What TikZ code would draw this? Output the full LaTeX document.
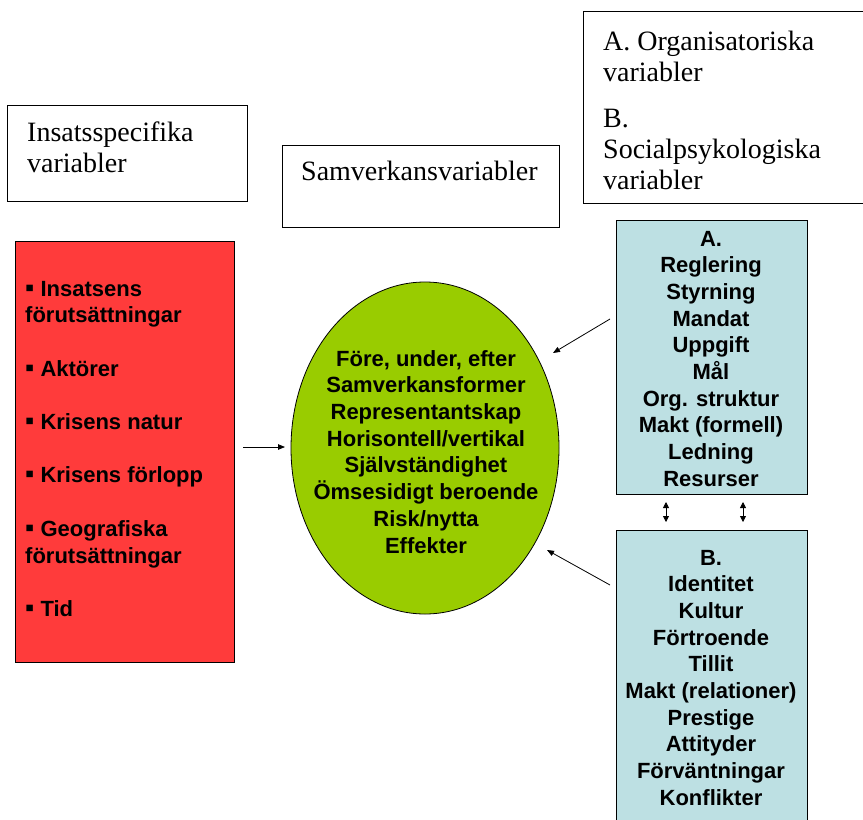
\documentclass[tikz,border=0pt]{standalone}
\usepackage{fontspec}
\setmainfont{Liberation Serif}
\setsansfont{Liberation Sans}
\usetikzlibrary{arrows.meta,shapes.geometric}
\definecolor{redfill}{HTML}{FF3B3B}
\definecolor{greenfill}{HTML}{99CC00}
\definecolor{bluefill}{HTML}{BDE0E3}
\newcommand{\bul}{{\fontsize{26}{26.7}\selectfont▪}\ }
\begin{document}
\begin{tikzpicture}[x=1pt,y=-1pt,
  labelbox/.style={draw=black, line width=0.8pt, fill=white, inner sep=0, anchor=north west},
  colbox/.style={draw=black, line width=0.8pt, inner sep=0, anchor=north west},
  serif/.style={font=\fontsize{28}{31}\selectfont, inner sep=0, anchor=base west, align=left},
  boldtxt/.style={font=\sffamily\bfseries\fontsize{22}{26.7}\selectfont, inner sep=0, anchor=base, align=center},
  conn/.style={-{Triangle[length=7pt,width=5.5pt]}, line width=0.8pt},
  dconn/.style={{Triangle[length=6pt,width=6pt]}-{Triangle[length=6pt,width=6pt]}, line width=0.8pt},
]
\useasboundingbox (0,0) rectangle (863,820);
\fill[white] (0,0) rectangle (863,820);

% header label boxes (text anchors are the baseline of the last line)
\node[labelbox, minimum width=240pt, minimum height=96pt] (insbox) at (7,105) {};
\node[serif] (instxt) at (27,172) {Insatsspecifika\\variabler};

\node[labelbox, minimum width=277pt, minimum height=82pt] (sambox) at (282,145) {};
\node[serif] (samtxt) at (301,180) {Samverkansvariabler};

\node[labelbox, minimum width=290pt, minimum height=192pt] (orgbox) at (583,11) {};
\node[serif] (orgtxt) at (603,189) {A. Organisatoriska\\variabler\\[15pt]B.\\Socialpsykologiska\\variabler};

% red box
\node[colbox, fill=redfill, minimum width=219pt, minimum height=421pt] (redbox) at (15,241) {};
\node[boldtxt, anchor=base west, align=left] (redtxt) at (25,616.4)
 {\bul Insatsens\\förutsättningar\\[26.7pt]\bul Aktörer\\[26.7pt]\bul Krisens natur\\[26.7pt]\bul Krisens förlopp\\[26.7pt]\bul Geografiska\\förutsättningar\\[26.7pt]\bul Tid};

% ellipse
\node[draw=black, line width=0.8pt, ellipse, fill=greenfill, minimum width=268pt, minimum height=332pt, inner sep=0] (ell) at (425,448) {};
\node[boldtxt] (elltxt) at (426,553)
 {Före, under, efter\\Samverkansformer\\Representantskap\\Horisontell/vertikal\\Självständighet\\Ömsesidigt beroende\\Risk/nytta\\Effekter};

% blue boxes
\node[colbox, fill=bluefill, minimum width=191pt, minimum height=274pt] (boxA) at (616,220) {};
\node[boldtxt] (txtA) at (711,486.3)
 {A.\\Reglering\\Styrning\\Mandat\\Uppgift\\Mål\\Org. struktur\\Makt (formell)\\Ledning\\Resurser};

\node[colbox, fill=bluefill, minimum width=191pt, minimum height=300pt] (boxB) at (616,530) {};
\node[boldtxt] (txtB) at (711,805.3)
 {B.\\Identitet\\Kultur\\Förtroende\\Tillit\\Makt (relationer)\\Prestige\\Attityder\\Förväntningar\\Konflikter};

% connectors
\coordinate (redout) at (243,447);
\coordinate (ellin) at (285,447);
\draw[conn] (redout) -- (ellin);

\coordinate (Aout) at (610,319);
\coordinate (ellA) at (553,353);
\draw[conn] (Aout) -- (ellA);

\coordinate (Bout) at (610,585);
\coordinate (ellB) at (547,550);
\draw[conn] (Bout) -- (ellB);

\coordinate (ab1t) at (666,502);
\coordinate (ab1b) at (666,522);
\draw[dconn] (ab1t) -- (ab1b);
\coordinate (ab2t) at (743,502);
\coordinate (ab2b) at (743,522);
\draw[dconn] (ab2t) -- (ab2b);
\end{tikzpicture}
\end{document}
